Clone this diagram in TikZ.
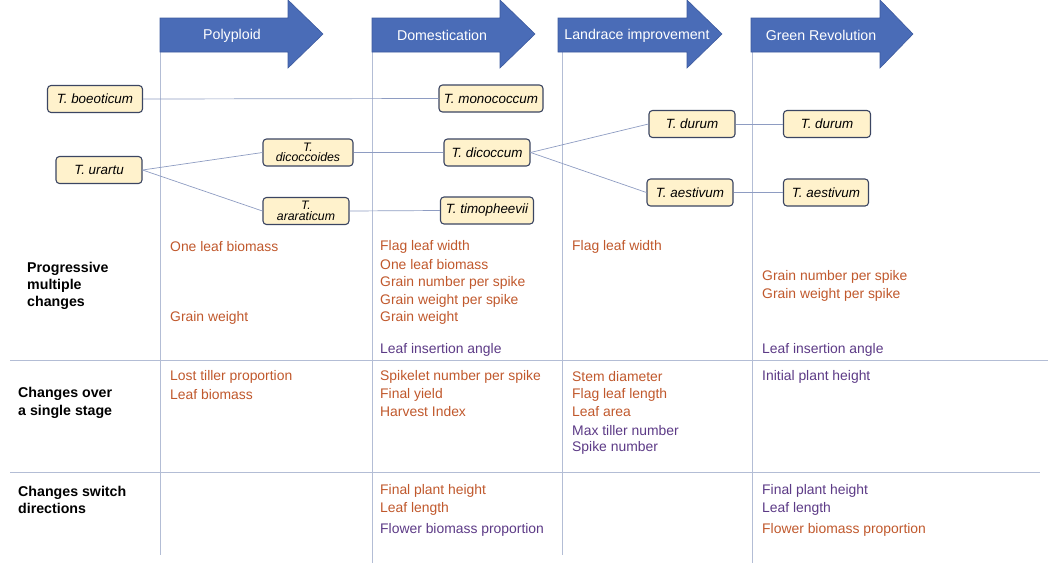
\documentclass[tikz,border=0pt]{standalone}
\usepackage{fontspec}
\setmainfont{Liberation Sans}
\definecolor{stageblue}{HTML}{4A6CB7}
\definecolor{stageedge}{HTML}{3C5A9E}
\definecolor{gridline}{HTML}{B3BDD5}
\definecolor{linkline}{HTML}{8E9CC2}
\definecolor{spfill}{HTML}{FFF2CC}
\definecolor{spedge}{HTML}{3B4562}
\definecolor{traitor}{HTML}{C0582C}
\definecolor{traitpu}{HTML}{5C3A86}
\begin{document}
\begin{tikzpicture}[x=1pt,y=-1pt,
  sp/.style={draw=spedge,fill=spfill,rounded corners=3.5pt,line width=1.1pt,
    minimum height=27pt,inner sep=1pt,font=\itshape\fontsize{13.4}{14}\selectfont},
  spsmall/.style={sp,font=\itshape\fontsize{12.3}{10.5}\selectfont,align=center,inner sep=0.5pt},
  link/.style={draw=linkline,line width=0.7pt},
  trait/.style={anchor=west,inner sep=0pt,font=\fontsize{13.9}{15}\selectfont},
  rowlab/.style={anchor=west,inner sep=0pt,align=left,font=\bfseries\fontsize{14.2}{17.3}\selectfont}]
  \useasboundingbox (0,0) rectangle (1050,563);
  % Gitter
  \foreach \gx/\gy in {160/555,372/563,562/555,752/563}
    \draw[gridline,line width=0.8pt] (\gx,52) -- (\gx,\gy);
  \draw[gridline,line width=0.8pt] (10,360) -- (1048,360);
  \draw[gridline,line width=0.8pt] (10,472) -- (1040,472);
  % Stadier (pile)
  \foreach \ax/\hx/\tx/\lx/\lab in {160/288/323/232/Polyploid,
      372/500/535/442/Domestication,
      558/687/722/637/Landrace improvement,
      751/880/913/821/Green Revolution}{
    \filldraw[fill=stageblue,draw=stageedge,line width=0.6pt]
      (\ax,18) -- (\hx,18) -- (\hx,0) -- (\tx,34) -- (\hx,68) -- (\hx,52) -- (\ax,52) -- cycle;
    \node[white,font=\fontsize{14.2}{15}\selectfont] (st-\ax) at (\lx,35.5) {\lab};
  }
  % Arter
  \node[sp,minimum width=95pt]  (boeo) at (95,99)   {T. boeoticum};
  \node[sp,minimum width=86pt]  (urar) at (99,170)  {T. urartu};
  \node[spsmall,minimum width=90pt] (dicoi) at (308,152.5) {T.\\dicoccoides};
  \node[spsmall,minimum width=86pt] (arar) at (306,211) {T.\\araraticum};
  \node[sp,minimum width=104pt] (mono) at (491,98.5)  {T. monococcum};
  \node[sp,minimum width=86pt]  (dico) at (487,152.5) {T. dicoccum};
  \node[sp,minimum width=93pt]  (timo) at (487,210.5) {T. timopheevii};
  \node[sp,minimum width=86pt]  (dur1) at (692,124) {T. durum};
  \node[sp,minimum width=86pt]  (aes1) at (690,192.5) {T. aestivum};
  \node[sp,minimum width=87pt]  (dur2) at (827,124) {T. durum};
  \node[sp,minimum width=85pt]  (aes2) at (826,192.5) {T. aestivum};
  % Forbindelser
  \draw[link] (boeo.east) -- (mono.west);
  \draw[link] (urar.east) -- (dicoi.west);
  \draw[link] (urar.east) -- (arar.west);
  \draw[link] (dicoi.east) -- (dico.west);
  \draw[link] (arar.east) -- (timo.west);
  \draw[link] (dico.east) -- (dur1.west);
  \draw[link] (dico.east) -- (aes1.west);
  \draw[link] (dur1.east) -- (dur2.west);
  \draw[link] (aes1.east) -- (aes2.west);
  % Rader
  \node[rowlab] (r1) at (27,286) {Progressive\\multiple\\changes};
  \node[rowlab] (r2) at (18,403) {Changes over\\a single stage};
  \node[rowlab] (r3) at (18,500) {Changes switch\\directions};
  % Egenskaper
  \foreach \tx/\ty/\tc/\tt [count=\i] in {
      170/247/traitor/One leaf biomass, 170/318/traitor/Grain weight,
      170/377/traitor/Lost tiller proportion, 170/395/traitor/Leaf biomass,
      380/247/traitor/Flag leaf width, 380/265/traitor/One leaf biomass,
      380/283/traitor/Grain number per spike, 380/301/traitor/Grain weight per spike,
      380/318/traitor/Grain weight, 380/350/traitpu/Leaf insertion angle,
      380/377/traitor/Spikelet number per spike, 380/395/traitor/Final yield,
      380/412/traitor/Harvest Index, 380/491/traitor/Final plant height,
      380/509/traitor/Leaf length, 380/530/traitpu/Flower biomass proportion,
      572/247/traitor/Flag leaf width, 572/377/traitor/Stem diameter,
      572/395/traitor/Flag leaf length, 572/412/traitor/Leaf area,
      572/431/traitpu/Max tiller number, 572/448/traitpu/Spike number,
      762/277/traitor/Grain number per spike, 762/295/traitor/Grain weight per spike,
      762/350/traitpu/Leaf insertion angle, 762/377/traitpu/Initial plant height,
      762/491/traitpu/Final plant height, 762/509/traitpu/Leaf length,
      762/530/traitor/Flower biomass proportion}
    \node[trait,text=\tc] (tr\i) at (\tx,\ty) {\tt};
\end{tikzpicture}
\end{document}
